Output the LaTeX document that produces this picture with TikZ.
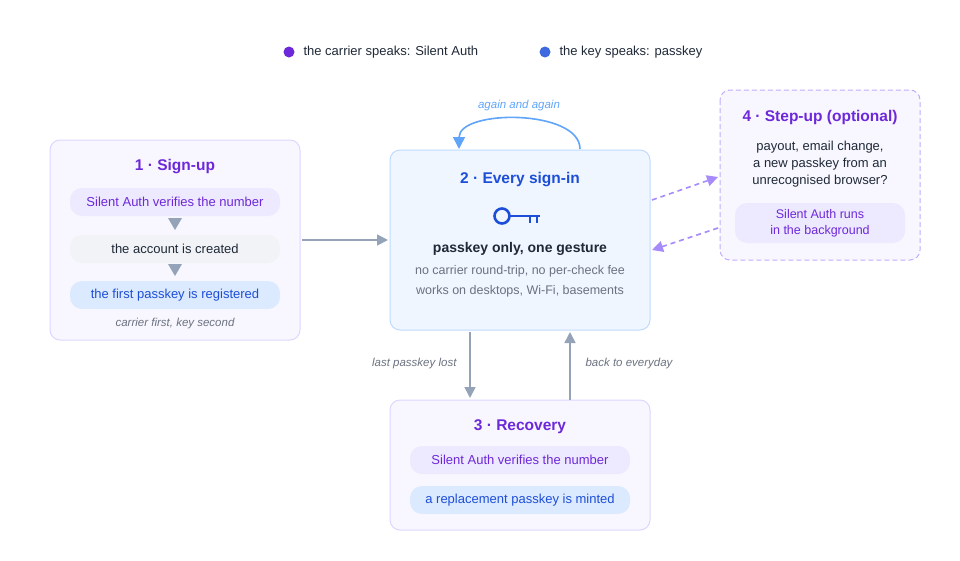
\documentclass[tikz,border=0pt]{standalone}
\usepackage{fontspec}
\setmainfont{Liberation Sans}
\usetikzlibrary{arrows.meta}
\definecolor{pur}{HTML}{6D28D9}
\definecolor{blu}{HTML}{1D4ED8}
\definecolor{gtx}{HTML}{6B7280}
\definecolor{dtx}{HTML}{1F2937}
\definecolor{arr}{HTML}{94A3B8}
\definecolor{lav}{HTML}{DDD6FE}
\definecolor{lavf}{HTML}{F8F7FF}
\definecolor{pillp}{HTML}{EDE9FE}
\definecolor{pillg}{HTML}{F1F3F6}
\definecolor{pillb}{HTML}{DBEAFE}
\definecolor{bbd}{HTML}{BFDBFE}
\definecolor{bbf}{HTML}{EFF6FF}
\definecolor{dsh}{HTML}{A78BFA}
\definecolor{loop}{HTML}{60A5FA}
\tikzset{
 box/.style={draw=lav,fill=lavf,line width=1pt,rounded corners=10pt},
 pill/.style={rounded corners=12pt,minimum height=28pt,font=\fontsize{13}{15}\selectfont},
 ttl/.style={font=\fontsize{15.5}{18}\selectfont\bfseries},
 note/.style={font=\fontsize{11.5}{13}\selectfont\itshape,text=gtx},
 garr/.style={draw=arr,line width=1.6pt,-{Triangle[length=11pt,width=11pt]}},
 darr/.style={draw=dsh,line width=1.6pt,dashed,dash pattern=on 5pt off 4pt,-{Triangle[length=11pt,width=11pt]}},
}
\begin{document}
\begin{tikzpicture}[x=1pt,y=-1pt]
\useasboundingbox (0,0) rectangle (960,560);
% legend
\fill[pur] (289,52) circle (5.5);
\node[anchor=west,font=\fontsize{13}{15}\selectfont,text=dtx] (lg1) at (300,52) {the carrier speaks: Silent Auth};
\fill[blu!85] (545,52) circle (5.5);
\node[anchor=west,font=\fontsize{13}{15}\selectfont,text=dtx] (lg2) at (556,52) {the key speaks: passkey};
% box 1
\draw[box] (50,140) rectangle (300,340);
\node[ttl,text=pur] (t1) at (175,167) {1 · Sign-up};
\node[pill,fill=pillp,text=pur,minimum width=210pt] (p1) at (175,202) {Silent Auth verifies the number};
\node[pill,fill=pillg,text=dtx,minimum width=210pt] (p2) at (175,249) {the account is created};
\node[pill,fill=pillb,text=blu,minimum width=210pt] (p3) at (175,295) {the first passkey is registered};
\fill[arr] (168,218) -- (182,218) -- (175,230) -- cycle;
\fill[arr] (168,264) -- (182,264) -- (175,276) -- cycle;
\node[note] (c1) at (175,324) {carrier first, key second};
% box 2
\draw[draw=bbd,fill=bbf,line width=1pt,rounded corners=10pt] (390,150) rectangle (650,330);
\node[ttl,text=blu] (t2) at (520,180) {2 · Every sign-in};
\draw[blu,line width=2.6pt] (502,216) circle (7.5);
\draw[blu,line width=2.6pt] (509.5,216) -- (540,216) (530,216) -- (530,223) (537,216) -- (537,223);
\node[font=\fontsize{14}{16}\selectfont\bfseries,text=dtx] (k2) at (520,249) {passkey only, one gesture};
\node[font=\fontsize{12.5}{14}\selectfont,text=gtx] (l2a) at (520,271) {no carrier round-trip, no per-check fee};
\node[font=\fontsize{12.5}{14}\selectfont,text=gtx] (l2b) at (520,291) {works on desktops, Wi-Fi, basements};
% box 3
\draw[box] (390,400) rectangle (650,530);
\node[ttl,text=pur] (t3) at (520,427) {3 · Recovery};
\node[pill,fill=pillp,text=pur,minimum width=220pt] (p4) at (520,460) {Silent Auth verifies the number};
\node[pill,fill=pillb,text=blu,minimum width=220pt] (p5) at (520,500) {a replacement passkey is minted};
% box 4
\draw[draw=dsh!70,fill=lavf,line width=1pt,dashed,dash pattern=on 5pt off 3pt,rounded corners=10pt] (720,90) rectangle (920,260);
\node[ttl,text=pur] (t4) at (820,117) {4 · Step-up (optional)};
\node[font=\fontsize{13}{17}\selectfont,text=dtx,align=center] (s4) at (820,164) {payout, email change,\\a new passkey from an\\unrecognised browser?};
\node[pill,fill=pillp,text=pur,minimum width=170pt,minimum height=40pt,align=center,font=\fontsize{12.5}{16}\selectfont] (p6) at (820,223) {Silent Auth runs\\in the background};
% connectors
\coordinate (a1) at (302,240); \coordinate (a2) at (388,240);
\draw[garr] (a1) -- (a2);
\coordinate (d1) at (470,332); \coordinate (d2) at (470,398);
\draw[garr] (d1) -- (d2);
\node[note,anchor=east] (ll) at (460,364) {last passkey lost};
\coordinate (u1) at (570,400); \coordinate (u2) at (570,332);
\draw[garr] (u1) -- (u2);
\node[note,anchor=west] (lr) at (582,364) {back to everyday};
\coordinate (e1) at (652,200); \coordinate (e2) at (718,177);
\draw[darr] (e1) -- (e2);
\coordinate (f1) at (718,228); \coordinate (f2) at (652,250);
\draw[darr] (f1) -- (f2);
\coordinate (r1) at (580,149); \coordinate (r2) at (459,149);
\draw[draw=loop,line width=1.6pt,-{Triangle[length=12pt,width=12pt]}] (r1) .. controls (580,109) and (459,109) .. (r2);
\node[font=\fontsize{11.5}{13}\selectfont\itshape,text=loop] (la) at (519,106) {again and again};
\end{tikzpicture}
\end{document}
